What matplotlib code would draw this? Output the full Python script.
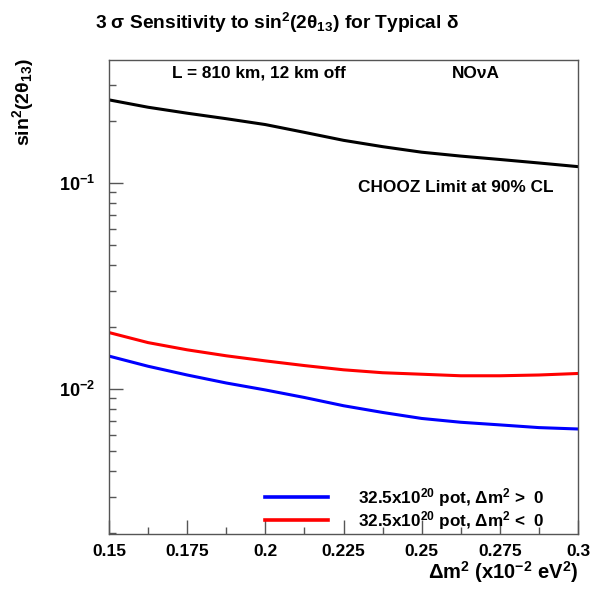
import numpy as np
import matplotlib
matplotlib.use("Agg")
import matplotlib.pyplot as plt
from matplotlib.ticker import LogLocator, FixedLocator, FixedFormatter, NullFormatter
from matplotlib.lines import Line2D

plt.rcParams["font.family"] = ["Liberation Sans", "DejaVu Sans"]
plt.rcParams["font.weight"] = "bold"
plt.rcParams["mathtext.fontset"] = "custom"
plt.rcParams["mathtext.rm"] = "Liberation Sans:bold"
plt.rcParams["mathtext.bf"] = "Liberation Sans:bold"
plt.rcParams["mathtext.it"] = "Liberation Sans:bold:italic"
plt.rcParams["mathtext.default"] = "bf"

# Delta m^2 (x10^-2 eV^2)
dm2 = [0.15, 0.1625, 0.175, 0.1875, 0.2, 0.2125, 0.225, 0.2375, 0.25,
       0.2625, 0.275, 0.2875, 0.3]
# CHOOZ 90% CL limit on sin^2(2theta13)
chooz = [0.253, 0.233, 0.218, 0.205, 0.192, 0.176, 0.161, 0.150, 0.141,
         0.135, 0.130, 0.125, 0.120]
# NOvA 3 sigma sensitivity, normal hierarchy
nova_pos = [0.01445, 0.0129, 0.0117, 0.0107, 0.0099, 0.0091, 0.0083, 0.0077,
            0.0072, 0.0069, 0.0067, 0.0065, 0.0064]
# NOvA 3 sigma sensitivity, inverted hierarchy
nova_neg = [0.0188, 0.0168, 0.0155, 0.0145, 0.0137, 0.0130, 0.0124, 0.0120,
            0.0118, 0.0116, 0.0116, 0.0117, 0.0119]

xticks = [0.15, 0.175, 0.2, 0.225, 0.25, 0.275, 0.3]
xticklabels = ["0.15", "0.175", "0.2", "0.225", "0.25", "0.275", "0.3"]
yticks = [0.01, 0.1]
yticklabels = [r"$10^{-2}$", r"$10^{-1}$"]
legend_labels = [r"32.5x10$^{20}$ pot, Δm$^{2}$ >  0",
                 r"32.5x10$^{20}$ pot, Δm$^{2}$ <  0"]

fig = plt.figure(figsize=(5.9, 5.9), dpi=100)
L, R, T, B = 109, 578, 60, 534
ax = fig.add_axes([L / 590, 1 - B / 590, (R - L) / 590, (B - T) / 590])

frame = "#555555"
for s in ax.spines.values():
    s.set_color(frame)
    s.set_linewidth(1.0)

ax.plot(dm2, chooz, color="black", lw=2.2)
ax.plot(dm2, nova_pos, color="#0000ff", lw=2.2)
ax.plot(dm2, nova_neg, color="#ff0000", lw=2.2)

ax.set_yscale("log")
ax.set_xlim(0.15, 0.3)
ax.set_ylim(0.00198, 0.395)

ax.xaxis.set_major_locator(FixedLocator(xticks))
ax.xaxis.set_major_formatter(FixedFormatter(xticklabels))
ax.xaxis.set_minor_locator(FixedLocator(np.arange(0.1625, 0.3, 0.025)))
ax.yaxis.set_major_locator(FixedLocator(yticks))
ax.yaxis.set_major_formatter(FixedFormatter(yticklabels))
ax.yaxis.set_minor_locator(LogLocator(base=10, subs=np.arange(2, 10)))
ax.yaxis.set_minor_formatter(NullFormatter())

ax.tick_params(which="both", direction="in", top=False, right=False,
               color=frame, width=1.0)
ax.tick_params(which="major", length=10, pad=6)
ax.tick_params(which="minor", length=5)
ax.tick_params(axis="x", which="major", labelsize=12.5, pad=7)
ax.tick_params(axis="y", which="major", labelsize=13, pad=10)

fig.text(277 / 590, 1 - 23 / 590,
         r"3 σ Sensitivity to sin$^{2}$(2θ$_{13}$) for Typical δ",
         ha="center", va="center", fontsize=13.8)
fig.text(23 / 590, 1 - 58 / 590, r"sin$^{2}$(2θ$_{13}$)", rotation=90,
         ha="center", va="top", fontsize=14)
fig.text(578 / 590, 1 - 572 / 590, r"Δm$^{2}$ (x10$^{-2}$ eV$^{2}$)",
         ha="right", va="center", fontsize=14.5)

ax.text((172 - L) / (R - L), 1 - (73 - T) / (B - T), "L = 810 km, 12 km off",
        transform=ax.transAxes, ha="left", va="center", fontsize=12.4)
ax.text((452 - L) / (R - L), 1 - (73 - T) / (B - T), "NOνA",
        transform=ax.transAxes, ha="left", va="center", fontsize=12.4)
ax.text((358 - L) / (R - L), 1 - (188 - T) / (B - T), "CHOOZ Limit at 90% CL",
        transform=ax.transAxes, ha="left", va="center", fontsize=12.4)

handles = [Line2D([], [], color="#0000ff", lw=2.6),
           Line2D([], [], color="#ff0000", lw=2.6)]
ax.legend(handles, legend_labels, loc="upper left",
          bbox_to_anchor=((265 - L) / (R - L), 1 - (486 - T) / (B - T)),
          frameon=False, fontsize=12.3, handlelength=3.7, handletextpad=1.75,
          labelspacing=0.0, borderpad=0, borderaxespad=0)

fig.savefig("out.png", dpi=100, facecolor="white")
